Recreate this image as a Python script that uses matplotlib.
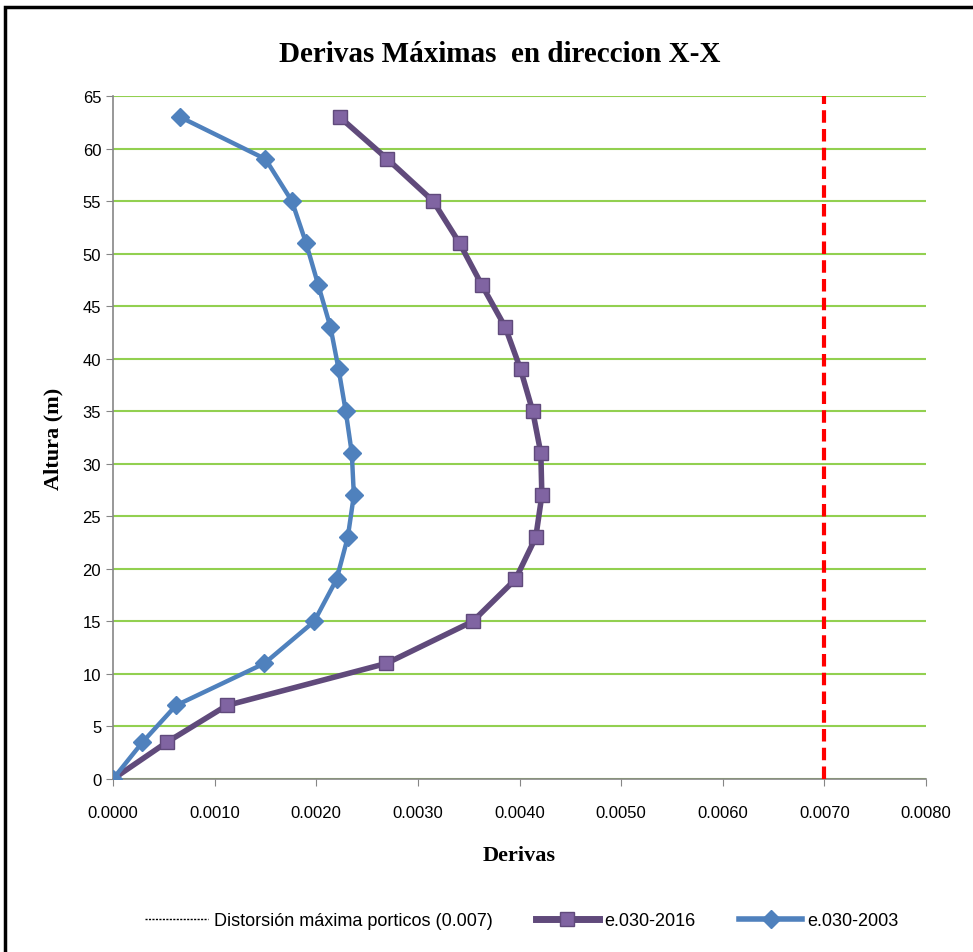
import matplotlib.pyplot as plt
from matplotlib.lines import Line2D
from matplotlib.patches import Rectangle
from matplotlib.ticker import FormatStrFormatter, MultipleLocator

# alturas de entrepiso (m) y derivas maximas por norma
altura = [0, 3.5, 7, 11, 15, 19, 23, 27, 31, 35, 39, 43, 47, 51, 55, 59, 63]
deriva_2016 = [0.0, 0.00053, 0.00112, 0.00269, 0.00354, 0.00396, 0.00416, 0.00422,
               0.00421, 0.00413, 0.00401, 0.00386, 0.00363, 0.00341, 0.00315, 0.00270, 0.00223]
deriva_2003 = [0.0, 0.00029, 0.00062, 0.00149, 0.00198, 0.00220, 0.00231, 0.00237,
               0.00235, 0.00229, 0.00222, 0.00214, 0.00202, 0.00190, 0.00176, 0.00150, 0.00066]
limite = 0.007
limite_altura = [0, 65]

serif = ['Liberation Serif', 'DejaVu Serif']
sans = ['Liberation Sans Narrow', 'Liberation Sans', 'DejaVu Sans']

fig = plt.figure(figsize=(9.73, 9.53), dpi=100)
fig.patches.append(Rectangle((5 / 973, -0.01), 1.0, 1 - 8 / 953 + 0.01,
                             transform=fig.transFigure, fill=False,
                             edgecolor='black', linewidth=2.5))

ax = fig.add_axes([113 / 973, 1 - 780 / 953, 813 / 973, 683 / 953])

ax.plot([limite, limite], limite_altura, color='#FF0000', linestyle=(0, (3, 1.5)),
        linewidth=3, zorder=3)
ax.plot(deriva_2016, altura, color='#604A7B', linewidth=4, marker='s',
        markersize=10, markerfacecolor='#8064A2', markeredgecolor='#604A7B',
        markeredgewidth=1, zorder=4)
ax.plot(deriva_2003, altura, color='#4F81BD', linewidth=3.2, marker='D',
        markersize=9, markerfacecolor='#4F81BD', markeredgecolor='#4F81BD', zorder=5)

ax.set_xlim(0, 0.008)
ax.set_ylim(0, 65)
ax.xaxis.set_major_locator(MultipleLocator(0.001))
ax.yaxis.set_major_locator(MultipleLocator(5))
ax.xaxis.set_major_formatter(FormatStrFormatter('%.4f'))
ax.grid(axis='y', color='#92D050', linewidth=1.5)
ax.set_axisbelow(True)
for s in ['top', 'right']:
    ax.spines[s].set_visible(False)
for s in ['left', 'bottom']:
    ax.spines[s].set_color('#868686')
    ax.spines[s].set_linewidth(1.2)
ax.tick_params(axis='both', colors='#868686', labelcolor='black', length=5,
               labelsize=12)
for lbl in ax.get_xticklabels() + ax.get_yticklabels():
    lbl.set_family(sans)
ax.tick_params(axis='x', pad=14)

fig.text(500 / 973, 1 - 55 / 953, 'Derivas Máximas  en direccion X-X', family=serif,
         fontweight='bold', fontsize=21, ha='center', va='center')
ax.set_xlabel('Derivas', family=serif, fontweight='bold', fontsize=16, labelpad=18)
ax.set_ylabel('Altura (m)', family=serif, fontweight='bold', fontsize=16, labelpad=14)

handles = [
    Line2D([], [], color='black', linestyle=(0, (1.5, 1)), linewidth=1),
    Line2D([], [], color='#604A7B', linewidth=5, marker='s', markersize=10,
           markerfacecolor='#8064A2', markeredgecolor='#604A7B'),
    Line2D([], [], color='#4F81BD', linewidth=4, marker='D', markersize=9,
           markerfacecolor='#4F81BD', markeredgecolor='#4F81BD'),
]
labels = ['Distorsión máxima porticos (0.007)', 'e.030-2016', 'e.030-2003']
fig.legend(handles, labels, loc='center', bbox_to_anchor=(522 / 973, 1 - 922 / 953),
           ncol=3, frameon=False, prop={'family': sans, 'size': 13},
           handlelength=3.5, columnspacing=2.4, handletextpad=0.3)

fig.savefig('out.png', dpi=100)
